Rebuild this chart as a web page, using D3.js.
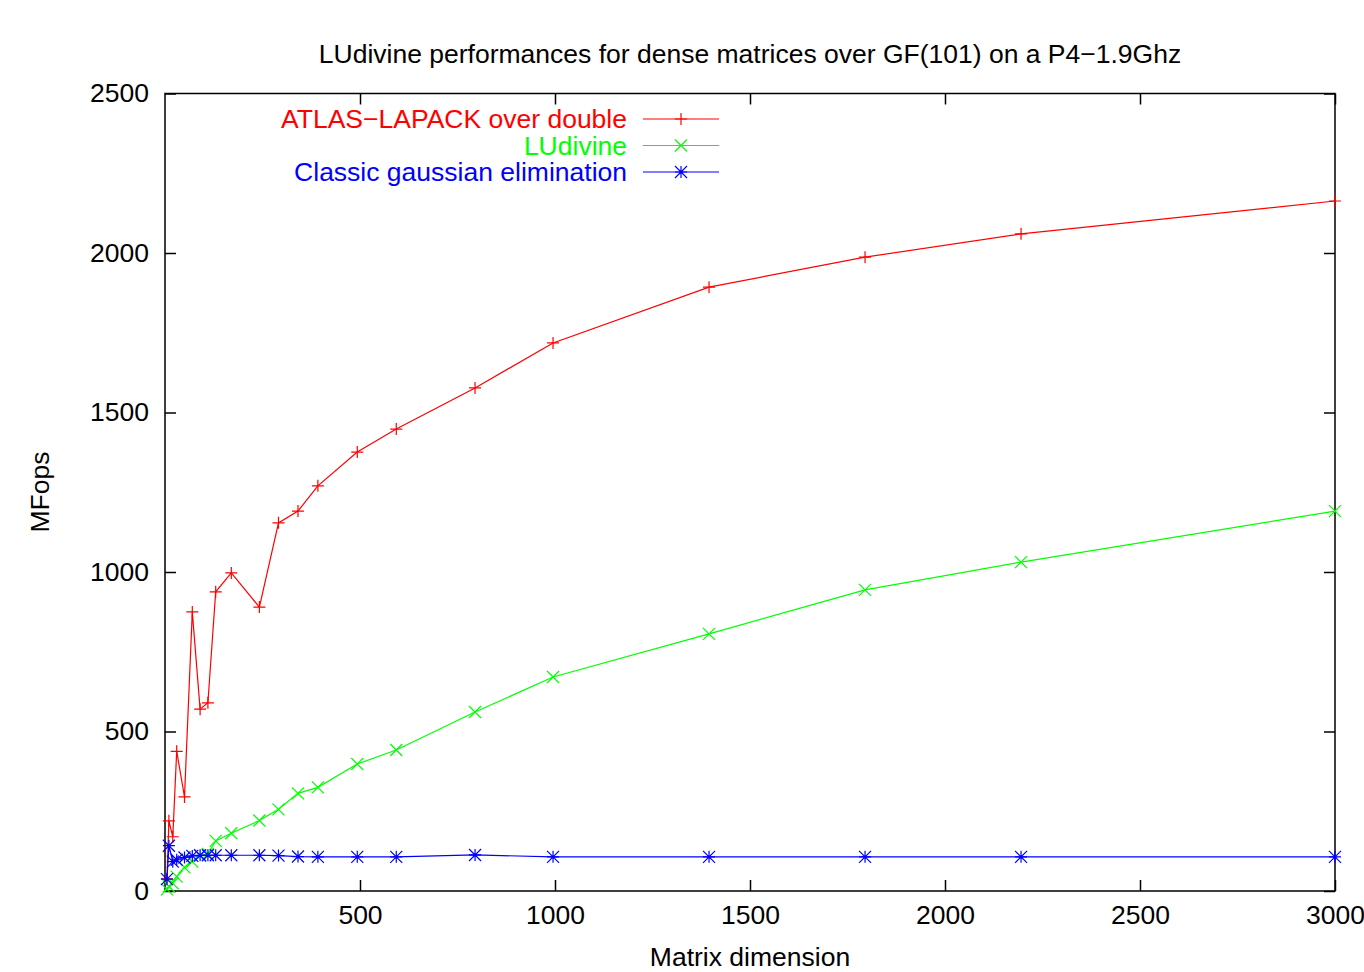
<!DOCTYPE html>
<html>
<head>
<meta charset="utf-8">
<script src="https://cdn.jsdelivr.net/npm/d3@7"></script>
<style>
  body { margin: 0; background: #fff; overflow: hidden; }
  text { font-family: "Liberation Sans", Arial, sans-serif; }
</style>
</head>
<body>
<div id="chart"></div>
<script>
// matrix dimensions (shared by all series)
var dims = [5, 10, 20, 30, 50, 70, 90, 110, 130, 170, 242, 291, 341, 392, 493, 593, 795, 995, 1395, 1795, 2195, 3000];

// MFops
var atlas = [38, 220, 170, 438, 295, 875, 570, 590, 938, 997, 890, 1154, 1191, 1270, 1376, 1448, 1577, 1718, 1893, 1987, 2060, 2163];
var ludivine = [5, 15, 24, 45, 74, 92, 110, 116, 157, 181, 221, 256, 306, 325, 398, 442, 561, 671, 806, 944, 1031, 1191];
var classic = [37, 142, 92, 98, 105, 110, 112, 112, 112, 112, 112, 111, 108, 107, 107, 107, 113, 107, 107, 107, 107, 107];

var seriesNames = ["ATLAS\u2212LAPACK over double", "LUdivine", "Classic gaussian elimination"];
var seriesColors = ["#ff0000", "#00ff00", "#0000ff"];
var seriesMarks = ["plus", "cross", "star"];

var xTicks = [500, 1000, 1500, 2000, 2500, 3000];
var yTicks = [0, 500, 1000, 1500, 2000, 2500];

var width = 1364, height = 972;
var mLeft = 165, mRight = 1335, mTop = 93.5, mBottom = 891;
var fontSize = "26.5px";

var svg = d3.select("#chart").append("svg")
    .attr("width", width)
    .attr("height", height);

var x = d3.scaleLinear().domain([0, 3000]).range([mLeft, mRight]);
var y = d3.scaleLinear().domain([0, 2500]).range([mBottom, mTop]);
var fmt = d3.format("d");

// ticks on all four sides, pointing inward
var tickLen = 11;
svg.append("g")
    .attr("transform", "translate(0," + mBottom + ")")
    .call(d3.axisBottom(x).tickValues(xTicks).tickFormat(fmt).tickSizeInner(-tickLen).tickSizeOuter(0).tickPadding(14))
    .call(function (g) { g.select(".domain").remove(); });
svg.append("g")
    .attr("transform", "translate(0," + mTop + ")")
    .call(d3.axisTop(x).tickValues(xTicks).tickSizeInner(-tickLen).tickSizeOuter(0).tickFormat(""))
    .call(function (g) { g.select(".domain").remove(); });
svg.append("g")
    .attr("transform", "translate(" + mLeft + ",0)")
    .call(d3.axisLeft(y).tickValues(yTicks).tickFormat(fmt).tickSizeInner(-tickLen).tickSizeOuter(0).tickPadding(16))
    .call(function (g) { g.select(".domain").remove(); });
svg.append("g")
    .attr("transform", "translate(" + mRight + ",0)")
    .call(d3.axisRight(y).tickValues(yTicks).tickSizeInner(-tickLen).tickSizeOuter(0).tickFormat(""))
    .call(function (g) { g.select(".domain").remove(); });

svg.selectAll(".tick line").attr("stroke", "#000").attr("stroke-width", 1.5);
svg.selectAll(".tick text")
    .attr("font-size", fontSize)
    .attr("fill", "#000")
    .style("font-family", "'Liberation Sans', Arial, sans-serif");

svg.append("rect")
    .attr("x", mLeft).attr("y", mTop)
    .attr("width", mRight - mLeft).attr("height", mBottom - mTop)
    .attr("fill", "none").attr("stroke", "#000").attr("stroke-width", 1.5);

// marker drawing
function markPath(type, s) {
    var p = "";
    if (type == "plus" || type == "star") {
        p += "M" + (-s) + ",0H" + s + "M0," + (-s) + "V" + s;
    }
    if (type == "cross" || type == "star") {
        p += "M" + (-s) + "," + (-s) + "L" + s + "," + s + "M" + (-s) + "," + s + "L" + s + "," + (-s);
    }
    return p;
}

var allSeries = [atlas, ludivine, classic];
var line = d3.line()
    .x(function (d) { return x(d[0]); })
    .y(function (d) { return y(d[1]); });

allSeries.forEach(function (vals, i) {
    var pts = dims.map(function (d, j) { return [d, vals[j]]; });
    var g = svg.append("g");
    g.append("path")
        .datum(pts)
        .attr("d", line)
        .attr("fill", "none")
        .attr("stroke", seriesColors[i])
        .attr("stroke-width", 1.2);
    g.selectAll("path.mark")
        .data(pts)
        .enter()
        .append("path")
        .attr("class", "mark")
        .attr("transform", function (d) { return "translate(" + x(d[0]) + "," + y(d[1]) + ")"; })
        .attr("d", markPath(seriesMarks[i], 6))
        .attr("fill", "none")
        .attr("stroke", seriesColors[i])
        .attr("stroke-width", 1.2);
});

// legend
var legY = [119, 145.5, 172];
seriesNames.forEach(function (name, i) {
    svg.append("text")
        .attr("x", 627).attr("y", legY[i])
        .attr("dy", "0.35em")
        .attr("text-anchor", "end")
        .attr("font-size", fontSize)
        .attr("fill", seriesColors[i])
        .text(name);
    svg.append("line")
        .attr("x1", 643).attr("x2", 719)
        .attr("y1", legY[i]).attr("y2", legY[i])
        .attr("stroke", seriesColors[i]).attr("stroke-width", 1.2);
    svg.append("path")
        .attr("transform", "translate(681," + legY[i] + ")")
        .attr("d", markPath(seriesMarks[i], 6))
        .attr("fill", "none")
        .attr("stroke", seriesColors[i]).attr("stroke-width", 1.2);
});

// title and axis labels
svg.append("text")
    .attr("x", 750).attr("y", 54).attr("dy", "0.35em")
    .attr("text-anchor", "middle")
    .attr("font-size", fontSize)
    .text("LUdivine performances for dense matrices over GF(101) on a P4\u22121.9Ghz");

svg.append("text")
    .attr("x", 750).attr("y", 957).attr("dy", "0.35em")
    .attr("text-anchor", "middle")
    .attr("font-size", fontSize)
    .text("Matrix dimension");

svg.append("text")
    .attr("transform", "translate(40,492) rotate(-90)")
    .attr("dy", "0.35em")
    .attr("text-anchor", "middle")
    .attr("font-size", fontSize)
    .text("MFops");
</script>
</body>
</html>
